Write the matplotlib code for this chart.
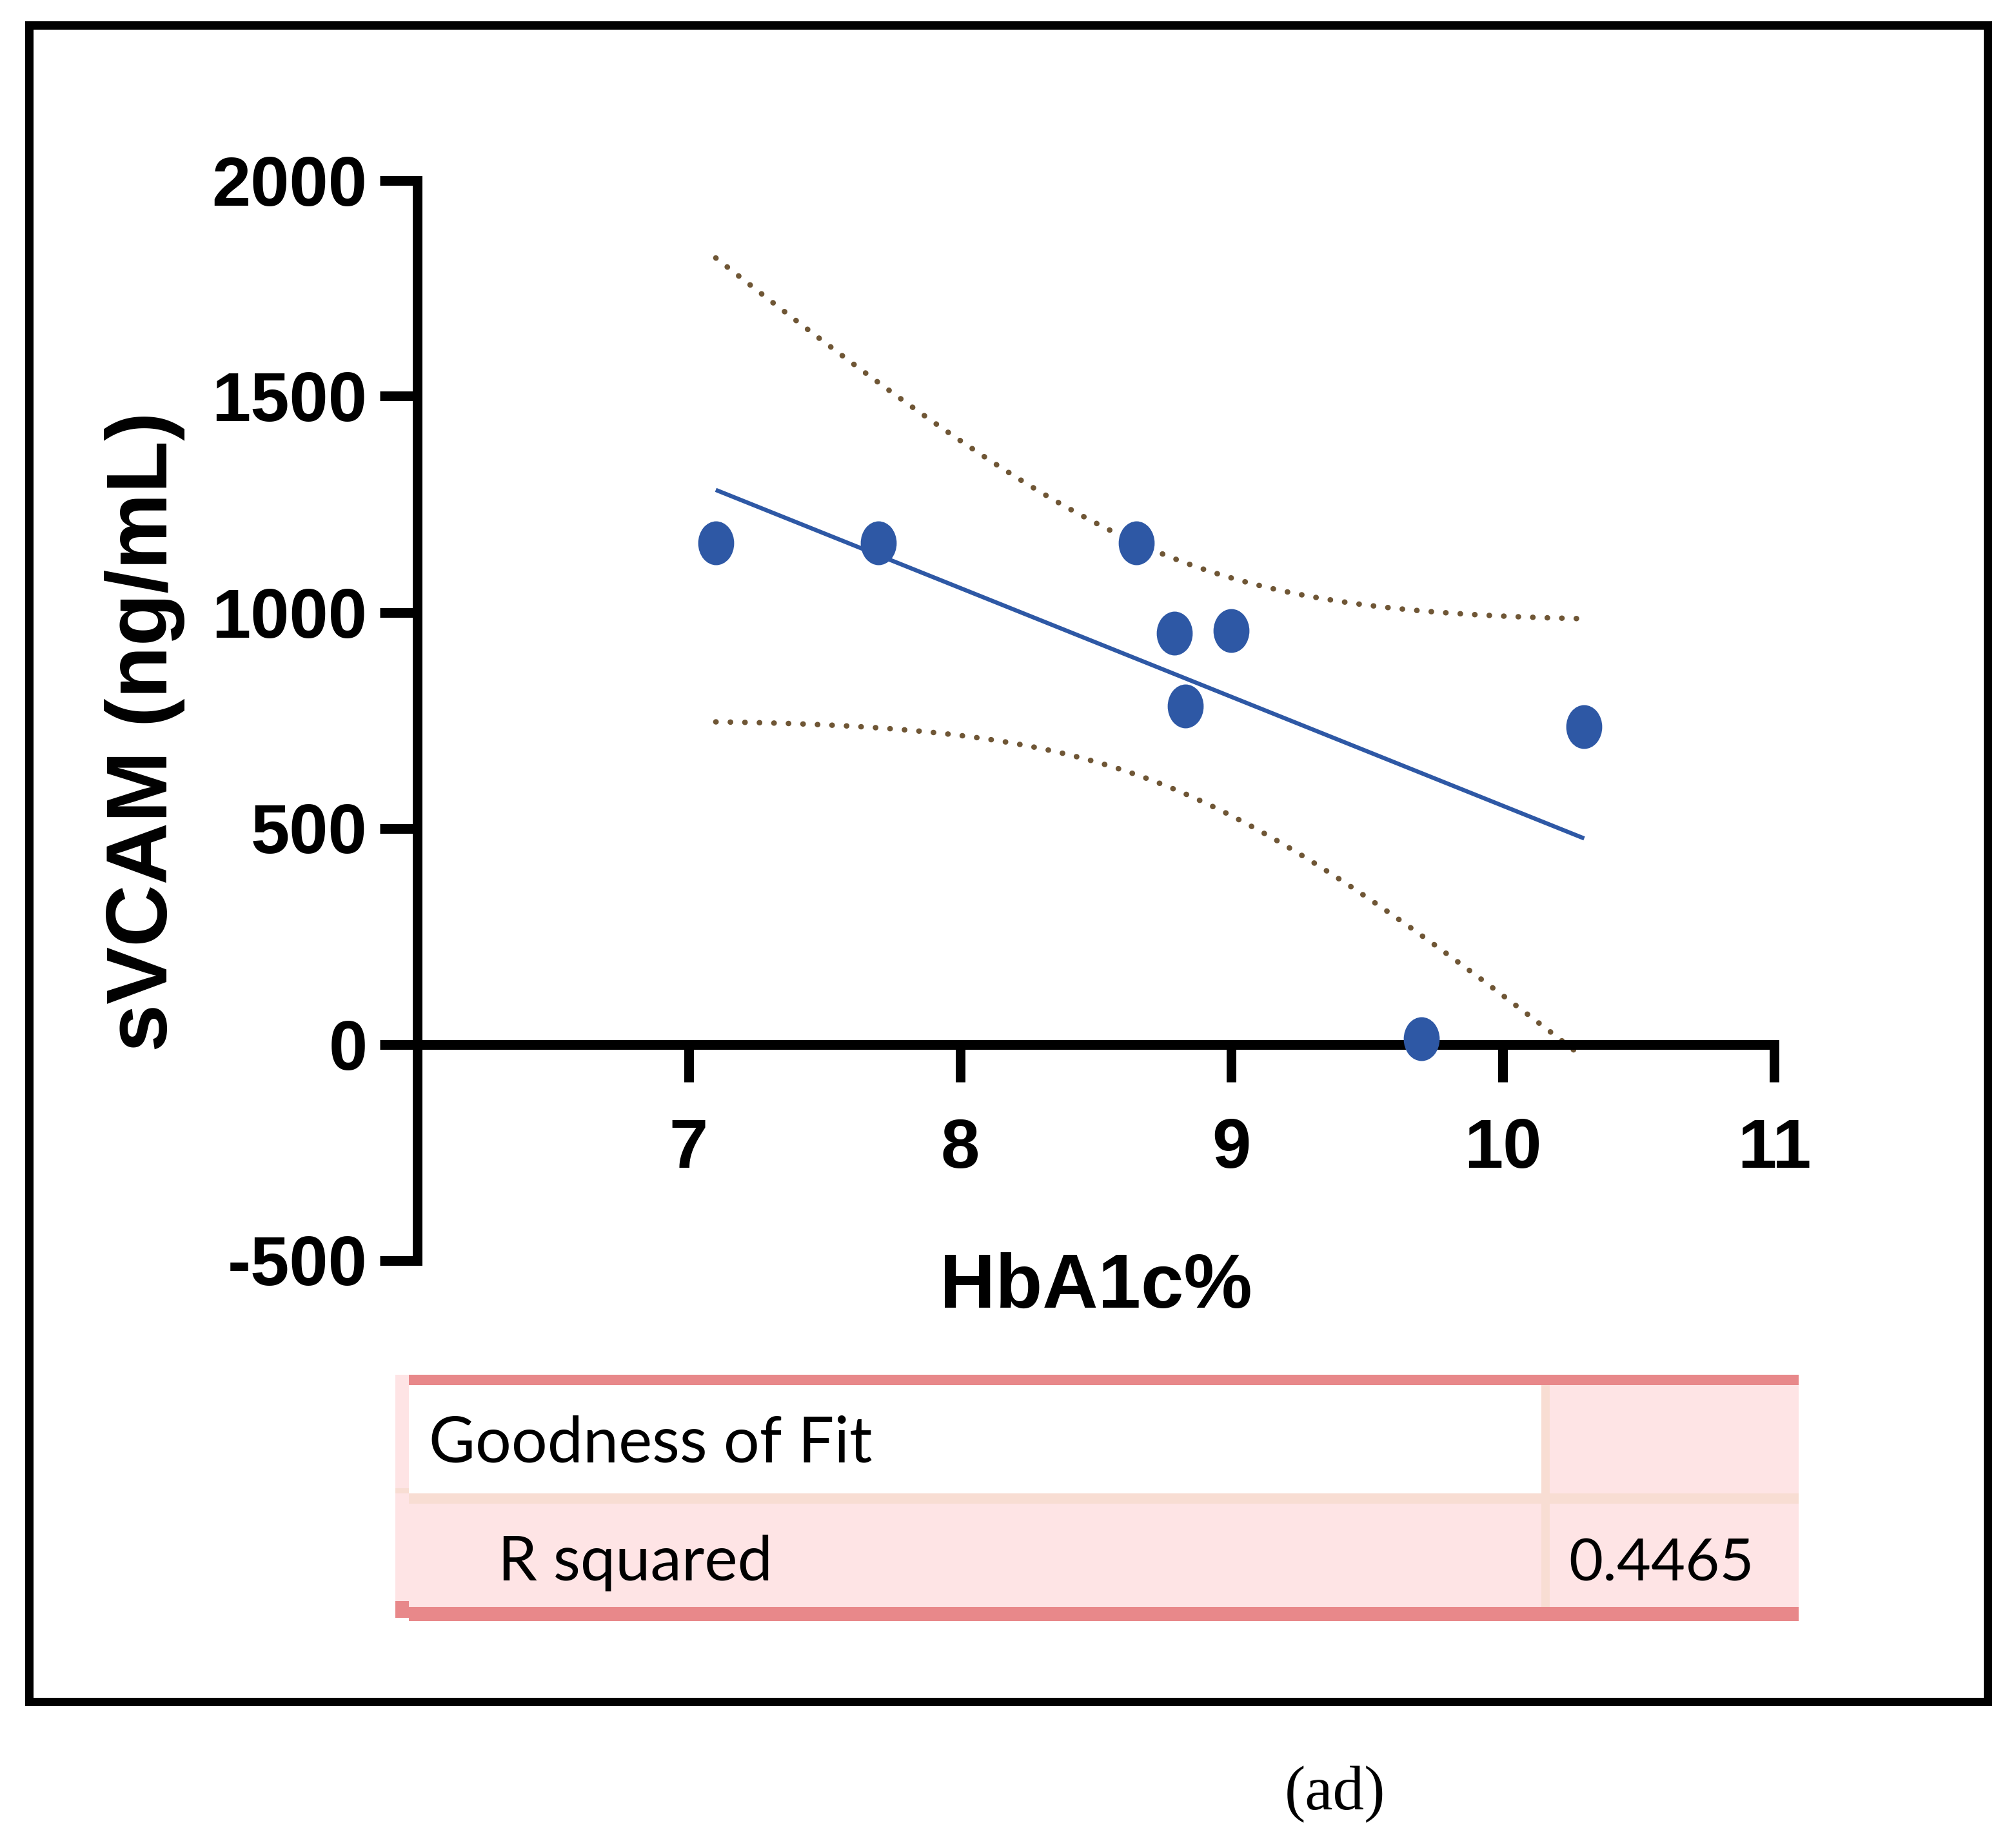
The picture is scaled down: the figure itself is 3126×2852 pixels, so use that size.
import numpy as np
import matplotlib
matplotlib.use("Agg")
import matplotlib.pyplot as plt
from matplotlib.path import Path
from matplotlib.transforms import Affine2D
from matplotlib.patches import Rectangle

# ---------------- data ----------------
hba1c = [7.1, 7.7, 8.65, 8.79, 9.0, 8.83, 10.3, 9.7]
svcam = [1160, 1160, 1160, 952, 958, 783, 735, 12]
x_ticks = [7, 8, 9, 10, 11]
x_tick_labels = ["7", "8", "9", "10", "11"]
y_ticks = [-500, 0, 500, 1000, 1500, 2000]
y_tick_labels = ["-500", "0", "500", "1000", "1500", "2000"]
x_label = "HbA1c%"
y_label = "sVCAM (ng/mL)"
table_header = "Goodness of Fit"
table_row_label = "R squared"
table_row_value = "0.4465"
panel_tag = "(ad)"

W, H = 3126, 2852
DPI = 200
fig = plt.figure(figsize=(W / DPI, H / DPI), dpi=DPI)
fig.patch.set_facecolor("white")

def px(v):
    return v * 72.0 / DPI

def fx(x):
    return x / W

def fy(y):
    return 1 - y / H

# ---------------- axes ----------------
ax_l, ax_r, ax_t, ax_b = 647, 2751, 279.5, 1954.5
ax = fig.add_axes([fx(ax_l), fy(ax_b), (ax_r - ax_l) / W, (ax_b - ax_t) / H])
ax.set_xlim(6, 11)
ax.set_ylim(-500, 2000)
ax.patch.set_alpha(0)

for s in ["top", "right"]:
    ax.spines[s].set_visible(False)
ax.spines["bottom"].set_position(("data", 0))
for s in ["left", "bottom"]:
    ax.spines[s].set_linewidth(px(15))
    ax.spines[s].set_color("black")

ax.set_xticks(x_ticks)
ax.set_xticklabels(x_tick_labels)
ax.set_yticks(y_ticks)
ax.set_yticklabels(y_tick_labels)
ax.tick_params(axis="both", direction="out", length=px(58), width=px(15), colors="black")
ax.tick_params(axis="x", pad=20)
ax.tick_params(axis="y", pad=7)
for lab in ax.get_xticklabels() + ax.get_yticklabels():
    lab.set_fontfamily("Liberation Sans")
    lab.set_fontweight("bold")
    lab.set_fontsize(39)

ax.set_xlabel(x_label, fontfamily="Liberation Sans", fontweight="bold", fontsize=43)
ax.xaxis.label.set_va("baseline")
ax.xaxis.set_label_coords(0.5, (ax_b - 2028) / (ax_b - ax_t))
ax.set_ylabel(y_label, fontfamily="Liberation Sans", fontweight="bold", fontsize=48)
ax.yaxis.set_label_coords((287 - ax_l) / (ax_r - ax_l), (ax_b - 1135) / (ax_b - ax_t))

# ---------------- regression + 95% CI ----------------
xa = np.array(hba1c, dtype=float)
ya = np.array(svcam, dtype=float)
n = len(xa)
slope, intercept = np.polyfit(xa, ya, 1)
resid = ya - (slope * xa + intercept)
s = np.sqrt(np.sum(resid ** 2) / (n - 2))
sxx = np.sum((xa - xa.mean()) ** 2)
t_crit = 2.4469  # t(0.975, df=6)
xf = np.linspace(xa.min(), xa.max(), 300)
yf = slope * xf + intercept
half = t_crit * s * np.sqrt(1.0 / n + (xf - xa.mean()) ** 2 / sxx)

blue = "#2E58A5"
brown = "#6F5635"
ax.plot(xf, yf, color=blue, lw=px(6.5), zorder=3, solid_capstyle="butt")
for band in (yf + half, yf - half):
    ax.plot(xf, band, color=brown, lw=px(8.5), linestyle=(0, (0.05, 2.6)),
            dash_capstyle="round", zorder=2, clip_on=False)

ell = Path.unit_circle().transformed(Affine2D().scale(0.82, 1.0))
ax.plot(xa, ya, linestyle="none", marker=ell, markersize=px(68),
        markerfacecolor=blue, markeredgecolor=blue, markeredgewidth=0,
        zorder=4, clip_on=False)

# ---------------- outer frame ----------------
fig.add_artist(Rectangle((fx(44.5), fy(2638.5)), (3081.5 - 44.5) / W, (2638.5 - 38.5) / H,
                         transform=fig.transFigure, fill=False, edgecolor="black",
                         linewidth=px(13), joinstyle="miter"))

# ---------------- goodness-of-fit table ----------------
salmon = "#E8888A"
pink = "#FEE4E5"
peach = "#F8DDD3"

def prect(x0, y0, x1, y1, color):
    fig.add_artist(Rectangle((fx(x0), fy(y1)), (x1 - x0) / W, (y1 - y0) / H,
                             transform=fig.transFigure, facecolor=color,
                             edgecolor="none", linewidth=0))

prect(613, 2132, 634, 2483, pink)
prect(613, 2308, 634, 2316, peach)
prect(613, 2483, 634, 2509, salmon)
prect(634, 2148, 2390, 2316, "white")
prect(2403, 2148, 2789, 2316, pink)
prect(634, 2332, 2789, 2492, pink)
prect(2390, 2148, 2403, 2492, peach)
prect(634, 2316, 2789, 2332, peach)
prect(634, 2132, 2789, 2148, salmon)
prect(634, 2492, 2789, 2514, salmon)

tfont = dict(fontfamily="Lato", color="black", va="baseline", ha="left")
fig.text(fx(665), fy(2267), table_header, fontsize=35.5, **tfont)
fig.text(fx(772), fy(2451), table_row_label, fontsize=35, **tfont)
fig.text(fx(2432), fy(2451), table_row_value, fontsize=33, **tfont)

# ---------------- panel tag ----------------
fig.text(fx(2070), fy(2783), panel_tag, fontfamily="Liberation Serif", fontsize=35,
         ha="center", va="center", color="black")

fig.savefig("out.png", dpi=DPI, facecolor="white")
